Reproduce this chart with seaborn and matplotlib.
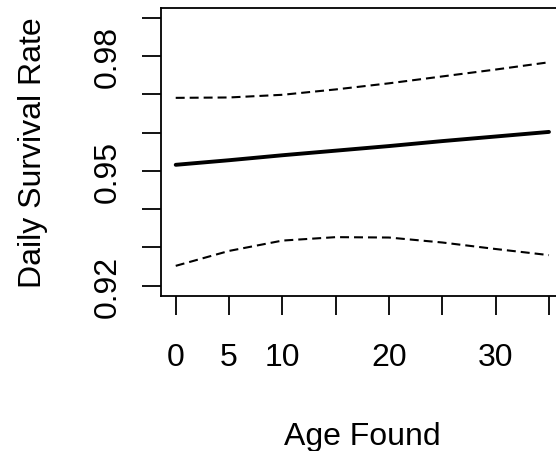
import numpy as np
import pandas as pd
import matplotlib
matplotlib.use("Agg")
import matplotlib.pyplot as plt
import seaborn as sns

# values
age = [0, 5, 10, 15, 20, 25, 30, 35]
dsr_fit = [0.9516, 0.9528, 0.9541, 0.9553, 0.9565, 0.9578, 0.9590, 0.9602]
dsr_upper = [0.9691, 0.9692, 0.9699, 0.9713, 0.9729, 0.9747, 0.9765, 0.9784]
dsr_lower = [0.9252, 0.9291, 0.9318, 0.9327, 0.9326, 0.9313, 0.9296, 0.9280]

x_ticks = [0, 5, 10, 15, 20, 25, 30, 35]
x_labels = ["0", "5", "10", "", "20", "", "30", ""]
y_ticks = [0.92, 0.93, 0.94, 0.95, 0.96, 0.97, 0.98, 0.99]
y_labels = ["0.92", "", "", "0.95", "", "", "0.98", ""]

sns.set_style("ticks")
plt.rcParams['font.family'] = ['Liberation Sans', 'DejaVu Sans']

fig = plt.figure(figsize=(5.56, 4.52), dpi=100)
ax = fig.add_axes([0.2892, 0.3436, 0.725, 0.6358])

# fitted line and confidence limits
sns.lineplot(x=age, y=dsr_fit, ax=ax, color="black", linewidth=2.8)
sns.lineplot(x=age, y=dsr_upper, ax=ax, color="black", linewidth=1.5,
             linestyle=(0, (4.3, 2.4)))
sns.lineplot(x=age, y=dsr_lower, ax=ax, color="black", linewidth=1.5,
             linestyle=(0, (4.3, 2.4)))

ax.set_xlim(-1.4, 36.4)
ax.set_ylim(0.9174, 0.9925)
ax.set_xticks(x_ticks)
ax.set_xticklabels(x_labels)
ax.set_yticks(y_ticks)
ax.set_yticklabels(y_labels, rotation=90, va="center")

for s in ax.spines.values():
    s.set_visible(True)
    s.set_linewidth(1.3)
    s.set_color("black")
ax.tick_params(axis="both", length=13.7, width=1.3, color="black",
               labelsize=23, labelcolor="black")
ax.tick_params(axis="x", pad=20)
ax.tick_params(axis="y", pad=14)

ax.set_xlabel("Age Found", fontsize=23, labelpad=35, color="black")
ax.set_ylabel("Daily Survival Rate", fontsize=23, labelpad=32, color="black")

fig.savefig("out.png", dpi=100)
